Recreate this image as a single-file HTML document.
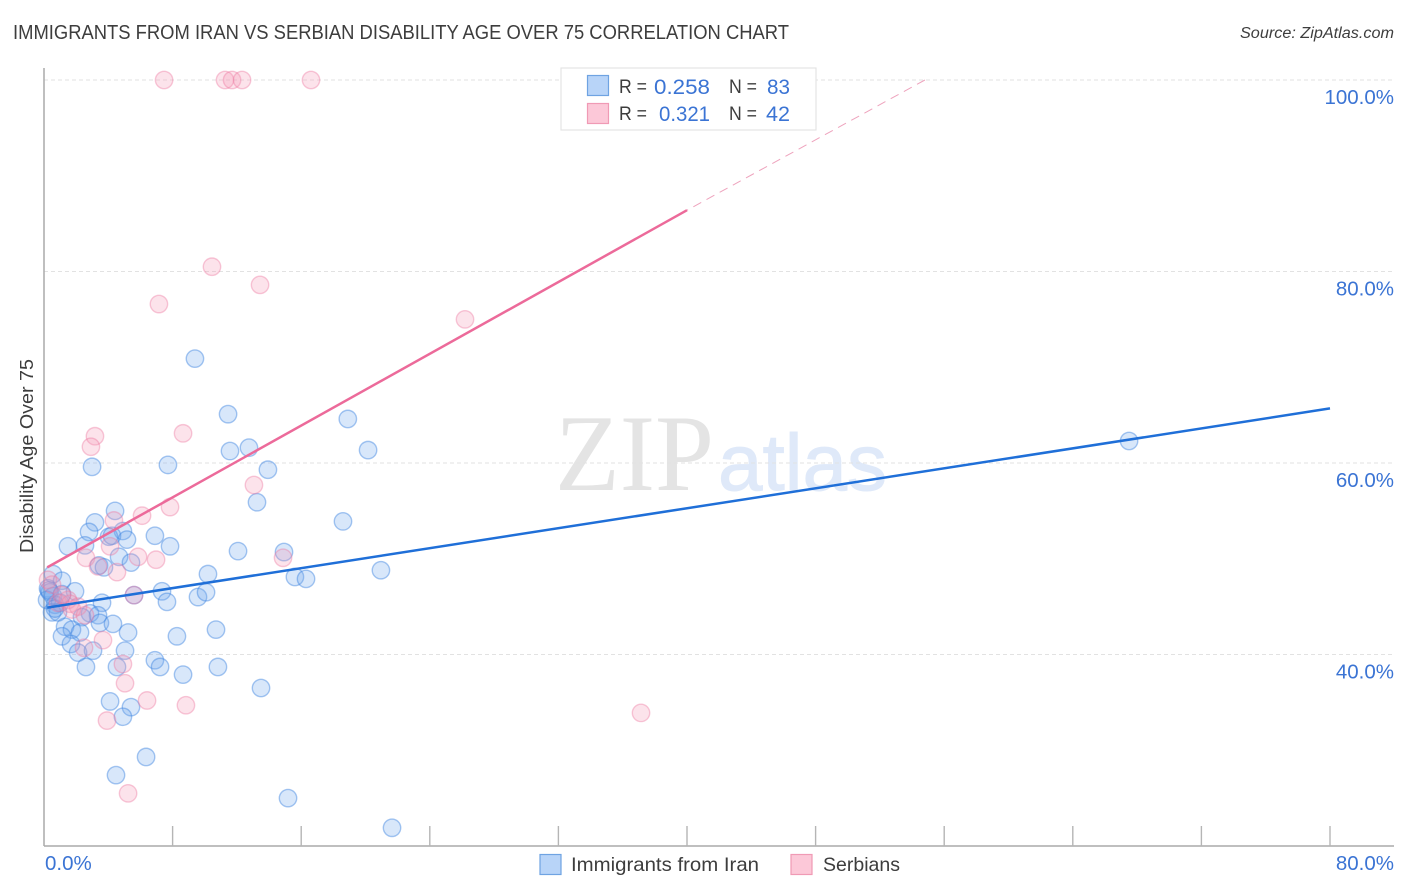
<!DOCTYPE html>
<html lang="en">
<head>
<meta charset="utf-8">
<title>Immigrants from Iran vs Serbian Disability Age Over 75 Correlation Chart</title>
<style>
html,body{margin:0;padding:0;background:#fff;width:1406px;height:892px;overflow:hidden}
svg{display:block;font-family:"Liberation Sans",sans-serif}
</style>
</head>
<body>
<svg id="chart" width="1406" height="892" viewBox="0 0 1406 892" xmlns="http://www.w3.org/2000/svg">
  <text x="13" y="39" font-size="20" fill="#3d3d3d" textLength="776" lengthAdjust="spacingAndGlyphs">IMMIGRANTS FROM IRAN VS SERBIAN DISABILITY AGE OVER 75 CORRELATION CHART</text>
  <text x="1394" y="38" font-size="15.5" font-style="italic" fill="#3d3d3d" text-anchor="end" textLength="154" lengthAdjust="spacingAndGlyphs">Source: ZipAtlas.com</text>

  <g>
    <text x="555" y="490" font-family="'Liberation Serif',serif" font-size="109" fill="#e4e4e4" textLength="159" lengthAdjust="spacingAndGlyphs">ZIP</text>
    <text x="718" y="490" font-size="80" fill="#dfe9f9" stroke="#dfe9f9" stroke-width="1" textLength="169" lengthAdjust="spacingAndGlyphs">atlas</text>
  </g>

  <g id="grid"></g>
  <g id="axes"></g>
  <g id="points"></g>
  <g id="trends"></g>
  <g id="labels"></g>

  <text transform="translate(33,456) rotate(-90)" font-size="18" fill="#3d3d3d" text-anchor="middle" textLength="194" lengthAdjust="spacingAndGlyphs">Disability Age Over 75</text>

  <g>
    <rect x="561" y="68" width="255" height="62" fill="#fff" stroke="#e4e4e4" stroke-width="1.2"/>
    <rect x="587.5" y="75.5" width="21" height="20" fill="#b8d4f8" stroke="#6fa3e2" stroke-width="1.2"/>
    <rect x="587.5" y="103.5" width="21" height="20" fill="#fcc8d8" stroke="#f09ab5" stroke-width="1.2"/>
    <g font-size="19.5" fill="#3d3d3d">
      <text x="619" y="93" textLength="28" lengthAdjust="spacingAndGlyphs">R =</text>
      <text x="729" y="93" textLength="28" lengthAdjust="spacingAndGlyphs">N =</text>
      <text x="619" y="120" textLength="28" lengthAdjust="spacingAndGlyphs">R =</text>
      <text x="729" y="120" textLength="28" lengthAdjust="spacingAndGlyphs">N =</text>
    </g>
    <g font-size="21.5" fill="#3b74d4">
      <text x="654" y="94" textLength="56" lengthAdjust="spacingAndGlyphs">0.258</text>
      <text x="767" y="94" textLength="23" lengthAdjust="spacingAndGlyphs">83</text>
      <text x="659" y="121" textLength="51" lengthAdjust="spacingAndGlyphs">0.321</text>
      <text x="766" y="121" textLength="24" lengthAdjust="spacingAndGlyphs">42</text>
    </g>
  </g>

  <g>
    <rect x="540" y="854.5" width="21" height="20" fill="#b8d4f8" stroke="#6fa3e2" stroke-width="1.2"/>
    <text x="571" y="871" font-size="19.5" fill="#3d3d3d" textLength="188" lengthAdjust="spacingAndGlyphs">Immigrants from Iran</text>
    <rect x="791" y="854.5" width="21" height="20" fill="#fcc8d8" stroke="#f09ab5" stroke-width="1.2"/>
    <text x="823" y="871" font-size="19.5" fill="#3d3d3d" textLength="77" lengthAdjust="spacingAndGlyphs">Serbians</text>
  </g>
</svg>
<script>
const iranX = [67.5,9.39,11.45,18.9,11.57,12.75,20.16,13.93,7.71,2.99,13.25,18.6,4.42,3.17,4.91,2.8,4.04,4.23,5.16,1.49,2.55,6.9,7.84,4.67,5.41,3.42,3.73,12.07,14.93,20.96,10.2,15.61,16.3,0.56,1.12,1.93,7.34,5.6,7.65,9.58,10.08,3.61,2.86,3.36,2.36,3.48,4.29,5.23,1.31,1.74,2.24,1.12,8.27,10.7,1.68,2.12,3.05,5.04,2.61,4.54,6.9,7.22,8.65,10.82,13.5,4.11,5.41,4.91,6.35,4.48,15.18,21.65,0.25,0.37,0.56,0.68,0.19,1.0,0.5,0.87,0.68,0.31,1.12];
const iranY = [62.3,70.9,65.1,64.6,61.25,61.6,61.35,59.3,59.8,59.6,55.9,53.9,55.0,53.8,52.9,52.8,52.3,52.4,52.0,51.3,51.4,52.4,51.3,50.2,49.6,49.3,49.1,50.8,50.7,48.8,48.4,48.1,47.9,48.4,47.7,46.6,46.6,46.2,45.5,46.0,46.5,45.4,44.3,44.1,43.9,43.3,43.2,42.3,42.9,42.6,42.3,41.9,41.9,42.6,41.1,40.2,40.4,40.4,38.7,38.7,39.4,38.7,37.9,38.7,36.5,35.1,34.5,33.5,29.3,27.4,25.0,21.9,46.9,46.5,46.1,45.2,45.7,45.4,44.4,44.4,44.8,46.7,46.3];
const serbX = [7.47,11.26,11.7,12.32,16.61,10.45,13.44,7.15,26.19,8.65,3.17,2.92,13.06,7.84,6.1,4.35,4.11,2.61,5.85,6.97,3.36,4.54,5.6,3.67,2.49,4.91,5.04,6.41,3.92,8.83,14.87,37.14,5.23,0.25,0.5,0.87,1.49,1.62,2.12,1.74,2.55,1.12];
const serbY = [100,100,100,100,100,80.5,78.6,76.6,75.0,63.1,62.8,61.7,57.7,55.4,54.5,54.0,51.3,50.1,50.2,49.9,49.2,48.6,46.2,41.5,40.7,39.0,37.0,35.2,33.1,34.7,50.1,33.9,25.5,47.8,47.3,45.4,45.7,45.3,45.0,44.7,44.1,46.2];
const iranTrendX = [0.2,80];
const iranTrendY = [44.9,65.7];
const serbTrendX = [0.2,40];
const serbTrendY = [49.1,86.4];
const serbDashX = [54.8,40];
const serbDashY = [100,86.4];
const yTicks = [100,80,60,40];
const yTickLabels = ["100.0%","80.0%","60.0%","40.0%"];
const xTicks = [8,16,24,32,40,48,56,64,72,80];
const xEndLabels = ["0.0%","80.0%"];

const NS = "http://www.w3.org/2000/svg";
const sx = v => 44 + v * 16.075;
const sy = v => 80 + (100 - v) * 9.575;
function mk(tag, attrs, parent) {
  const el = document.createElementNS(NS, tag);
  for (const k in attrs) el.setAttribute(k, attrs[k]);
  parent.appendChild(el);
  return el;
}
const grid = document.getElementById("grid");
const axes = document.getElementById("axes");
const pts = document.getElementById("points");
const trends = document.getElementById("trends");
const labels = document.getElementById("labels");

yTicks.forEach((t, i) => {
  const g = mk("line", {x1:44, x2:1394, y1:sy(t), y2:sy(t), stroke:"#e2e2e2", "stroke-width":1, "stroke-dasharray":"4 3"}, grid);
  
  
  const l = mk("text", {x:1394, y:sy(t)+24, "font-size":20.5, fill:"#3b74d4", "text-anchor":"end"}, labels);
  l.textContent = yTickLabels[i];
  
  
});

const yAxis = mk("line", {x1:44, x2:44, y1:68, y2:846, stroke:"#aaa", "stroke-width":1.5}, axes);


const xAxis = mk("line", {x1:44, x2:1394, y1:846, y2:846, stroke:"#aaa", "stroke-width":1.5}, axes);


xTicks.forEach(t => {
  const k = mk("line", {x1:sx(t), x2:sx(t), y1:826, y2:846, stroke:"#b5b5b5", "stroke-width":1.4}, axes);
  
  
});

const x0 = mk("text", {x:45, y:870, "font-size":20.5, fill:"#3b74d4"}, labels);
x0.textContent = xEndLabels[0];


const x1 = mk("text", {x:1394, y:870, "font-size":20.5, fill:"#3b74d4", "text-anchor":"end"}, labels);
x1.textContent = xEndLabels[1];



iranX.forEach((v, i) => {
  const c = mk("circle", {cx:sx(v), cy:sy(iranY[i]), r:8.7, fill:"rgba(110,165,235,0.27)", stroke:"rgba(60,130,225,0.45)", "stroke-width":1.4}, pts);
  
  
});
serbX.forEach((v, i) => {
  const c = mk("circle", {cx:sx(v), cy:sy(serbY[i]), r:8.7, fill:"rgba(245,150,180,0.27)", stroke:"rgba(238,120,160,0.4)", "stroke-width":1.4}, pts);
  
  
});

const t1 = mk("line", {x1:sx(iranTrendX[0]), y1:sy(iranTrendY[0]), x2:sx(iranTrendX[1]), y2:sy(iranTrendY[1]), stroke:"#1f6fd8", "stroke-width":2.5}, trends);


const t2 = mk("line", {x1:sx(serbTrendX[0]), y1:sy(serbTrendY[0]), x2:sx(serbTrendX[1]), y2:sy(serbTrendY[1]), stroke:"#ec6a9a", "stroke-width":2.5}, trends);


const t3 = mk("line", {x1:sx(serbDashX[0]), y1:sy(serbDashY[0]), x2:sx(serbDashX[1]), y2:sy(serbDashY[1]), stroke:"#eea3bd", "stroke-width":1, "stroke-dasharray":"9 6"}, trends);


</script>
</body>
</html>
